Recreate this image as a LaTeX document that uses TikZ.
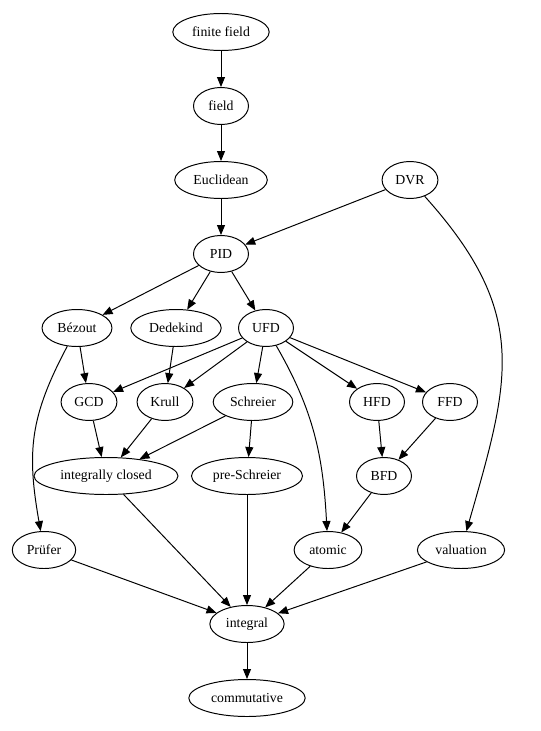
\documentclass[tikz,border=0pt]{standalone}
\usepackage{fontspec}
\setmainfont{Liberation Serif}
\usetikzlibrary{shapes.geometric,arrows.meta}
\begin{document}
\begin{tikzpicture}[
        dom/.style = {ellipse, draw, line width = 0.7pt, minimum width = 1.375cm, minimum height = 0.925cm,
                      inner xsep = 0.13cm, font = \fontsize{9.8}{11.5}\selectfont},
        arr/.style = {line width = 0.7pt, -{Triangle[length = 0.25cm, width = 0.2cm]}}]
    \useasboundingbox (0, 0) rectangle (13.5, -18.275);
    \path   node[dom] (A) at (5.525, -0.8) {finite field}
            node[dom] (B) at (5.525, -2.65) {field}
            node[dom] (C) at (5.525, -4.5) {Euclidean}
            node[dom] (D) at (10.25, -4.5) {DVR}
            node[dom] (E) at (5.525, -6.35) {PID}
            node[dom] (F) at (1.925, -8.2) {Bézout}
            node[dom] (G) at (4.4, -8.2) {Dedekind}
            node[dom] (H) at (6.65, -8.2) {UFD}
            node[dom] (I) at (2.225, -10.05) {GCD}
            node[dom] (J) at (4.125, -10.05) {Krull}
            node[dom] (K) at (6.325, -10.05) {Schreier}
            node[dom] (L) at (9.425, -10.05) {HFD}
            node[dom] (M) at (11.25, -10.05) {FFD}
            node[dom] (N) at (2.65, -11.9) {integrally closed}
            node[dom] (O) at (6.175, -11.9) {pre-Schreier}
            node[dom] (P) at (9.6, -11.9) {BFD}
            node[dom] (Q) at (1.1, -13.75) {Prüfer}
            node[dom] (R) at (8.2, -13.75) {atomic}
            node[dom] (S) at (11.525, -13.75) {valuation}
            node[dom] (T) at (6.175, -15.6) {integral}
            node[dom] (U) at (6.175, -17.45) {commutative};
    \draw[arr] (A) -- (B);
    \draw[arr] (B) -- (C);
    \draw[arr] (C) -- (E);
    \draw[arr] (D) -- (E);
    \draw[arr] (D) to[out = -48, in = 74, looseness = 1.2] (S);
    \draw[arr] (E) -- (F);
    \draw[arr] (E) -- (G);
    \draw[arr] (E) -- (H);
    \draw[arr] (F) -- (I);
    \draw[arr] (F) to[out = -118, in = 100, looseness = 1.1] (Q);
    \draw[arr] (G) -- (J);
    \draw[arr] (H) -- (I);
    \draw[arr] (H) -- (J);
    \draw[arr] (H) -- (K);
    \draw[arr] (H) -- (L);
    \draw[arr] (H) -- (M);
    \draw[arr] (H) to[out = -60, in = 93] (R);
    \draw[arr] (I) -- (N);
    \draw[arr] (J) -- (N);
    \draw[arr] (K) -- (N);
    \draw[arr] (K) -- (O);
    \draw[arr] (L) -- (P);
    \draw[arr] (M) -- (P);
    \draw[arr] (N) -- (T);
    \draw[arr] (O) -- (T);
    \draw[arr] (P) -- (R);
    \draw[arr] (Q) -- (T);
    \draw[arr] (R) -- (T);
    \draw[arr] (S) -- (T);
    \draw[arr] (T) -- (U);
\end{tikzpicture}
\end{document}
